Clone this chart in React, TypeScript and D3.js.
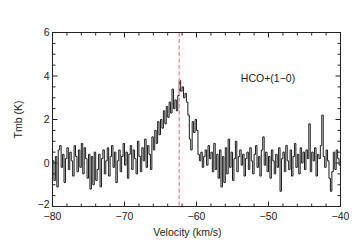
import React, { useEffect, useRef } from 'react';
import * as d3 from 'd3';

// channel grid of the spectrum (km/s)
const vStart = -80;
const dv = 0.2;

// antenna temperature per channel (K), one row per 2 km/s
const tmb = [
  0.1, -0.8, 0.3, -1.1, 0.6, 0.8, -0.2, 0.4, -0.9, 0.2,
  0.7, -0.3, 0.5, 0.1, -0.6, 0.8, 0.3, -0.4, 0.6, -0.2,
  0.9, -0.5, 0.7, 0.2, -0.7, 0.4, -1.2, 0.3, -1.0, 0.5,
  -0.8, -0.3, 0.4, -1.1, 0.2, 0.6, -0.5, 0.1, 0.7, -0.6,
  0.3, 0.8, -0.2, 0.5, -0.9, 0.1, 0.6, -0.4, 0.3, 0.9,
  -0.1, 0.5, -0.7, 0.4, 0.8, -0.3, 0.6, 0.2, -0.5, 1.0,
  0.3, -0.4, 0.7, 0.1, 1.1, -0.2, 0.8, 0.4, -0.3, 1.2,
  0.6, 1.5, 0.9, 1.9, 1.3, 2.0, 1.6, 2.4, 1.8, 2.6,
  2.1, 2.8, 2.3, 3.4, 2.5, 2.9, 2.4, 3.1, 3.8, 3.3,
  3.5, 3.0, 3.2, 2.8, 2.2, 1.1, 0.6, 1.9, 1.4, 2.0,
  1.5, 0.4, 0.1, 0.5, -0.2, 0.3, 0.6, -0.1, 0.8, 0.2,
  0.5, -0.4, 0.9, -0.3, 0.4, -0.7, 0.6, -1.1, 0.3, -0.9,
  0.7, -0.5, 1.1, -0.2, 0.5, -0.8, 0.2, 1.0, -0.4, 0.3,
  0.6, -0.1, 0.4, -0.6, 0.2, 0.5, -0.3, 0.7, 0.1, -0.5,
  0.4, 0.8, -0.2, 0.3, -0.6, 0.6, 1.2, -0.1, 0.5, -0.4,
  0.3, -0.7, 0.6, 0.1, -0.5, 0.4, -0.2, 0.7, -1.3, 0.2,
  0.5, -0.4, 0.8, 0.1, -0.3, 0.6, -0.6, 0.3, 0.9, -0.2,
  0.4, -0.5, 0.7, 0.0, 0.5, -0.3, 0.6, 0.2, 1.8, -0.4,
  0.5, 0.1, 0.7, -0.6, 0.4, 0.2, 0.8, 2.2, 0.3, -0.2,
  0.6, 0.1, -0.7, -1.3, -0.4, 0.5, -0.3, 0.6, 0.2, -0.1,
];

const lineVelocity = -62.4;
const xTicks = [-80, -70, -60, -50, -40];
const yTicks = [-2, 0, 2, 4, 6];
const label = 'HCO+(1\u22120)';

const fmt = (d: number) => (d < 0 ? '\u2212' + Math.abs(d) : String(d));

export default function App() {
  const svgRef = useRef<SVGSVGElement>(null);

  useEffect(() => {
    if (!svgRef.current) return;
    const svg = d3.select(svgRef.current);
    svg.selectAll('*').remove();

    const left = 52.5, right = 340.5, top = 32.5, bottom = 206.5;
    const x = d3.scaleLinear().domain([-80, -40]).range([left, right]);
    const y = d3.scaleLinear().domain([-2, 6]).range([bottom, top]);

    const pts = tmb.map((t, i) => [vStart + i * dv, t] as [number, number]);
    pts.push([vStart + tmb.length * dv, tmb[tmb.length - 1]]);

    svg.append('defs').append('clipPath').attr('id', 'plotClip')
      .append('rect')
      .attr('x', left).attr('y', top)
      .attr('width', right - left).attr('height', bottom - top);

    // spectrum
    const line = d3.line<[number, number]>()
      .x(d => x(d[0]))
      .y(d => y(d[1]))
      .curve(d3.curveStepAfter);

    svg.append('path')
      .datum(pts)
      .attr('clip-path', 'url(#plotClip)')
      .attr('fill', 'none')
      .attr('stroke', '#1a1a1a')
      .attr('stroke-width', 1)
      .attr('d', line);

    // systemic velocity marker
    svg.append('line')
      .attr('x1', x(lineVelocity)).attr('x2', x(lineVelocity))
      .attr('y1', top).attr('y2', bottom)
      .attr('stroke', '#f29a9a')
      .attr('stroke-width', 1.5)
      .attr('stroke-dasharray', '4,2.5');

    // frame
    svg.append('rect')
      .attr('x', left).attr('y', top)
      .attr('width', right - left).attr('height', bottom - top)
      .attr('fill', 'none')
      .attr('stroke', '#222')
      .attr('stroke-width', 1);

    const ticks = svg.append('g').attr('stroke', '#222').attr('stroke-width', 1);
    d3.range(-80, -39.9, 2).forEach(v => {
      const major = Math.abs(v % 10) < 1e-6;
      const len = major ? 5 : 3;
      ticks.append('line').attr('x1', x(v)).attr('x2', x(v)).attr('y1', bottom).attr('y2', bottom - len);
      ticks.append('line').attr('x1', x(v)).attr('x2', x(v)).attr('y1', top).attr('y2', top + len);
    });
    d3.range(-2, 6.01, 0.5).forEach(v => {
      const major = Math.abs(v % 2) < 1e-6;
      const len = major ? 5 : 3;
      ticks.append('line').attr('x1', left).attr('x2', left + len).attr('y1', y(v)).attr('y2', y(v));
      ticks.append('line').attr('x1', right).attr('x2', right - len).attr('y1', y(v)).attr('y2', y(v));
    });

    const font = 'Liberation Sans, Arial, sans-serif';

    svg.append('g').selectAll('text').data(xTicks).enter().append('text')
      .attr('x', d => x(d)).attr('y', 220)
      .attr('text-anchor', 'middle')
      .attr('font-family', font).attr('font-size', 10.5)
      .attr('fill', '#222')
      .text(d => fmt(d));

    svg.append('g').selectAll('text').data(yTicks).enter().append('text')
      .attr('x', left - 3).attr('y', d => y(d) + (d === -2 ? 1.5 : 3.5))
      .attr('text-anchor', 'end')
      .attr('font-family', font).attr('font-size', 10.5)
      .attr('fill', '#222')
      .text(d => fmt(d));

    svg.append('text')
      .attr('x', 187.5).attr('y', 236)
      .attr('text-anchor', 'middle')
      .attr('font-family', font).attr('font-size', 10.5)
      .attr('fill', '#222')
      .text('Velocity (km/s)');

    svg.append('text')
      .attr('transform', 'translate(22,119.5) rotate(-90)')
      .attr('text-anchor', 'middle')
      .attr('font-family', font).attr('font-size', 10.5)
      .attr('fill', '#222')
      .text('Tmb (K)');

    svg.append('text')
      .attr('x', 268).attr('y', 82)
      .attr('text-anchor', 'middle')
      .attr('font-family', font).attr('font-size', 10.5)
      .attr('fill', '#222')
      .text(label);
  }, []);

  return (
    <svg
      ref={svgRef}
      width={360}
      height={249}
      style={{ position: 'absolute', left: 0, top: 0, background: '#fff' }}
    />
  );
}
